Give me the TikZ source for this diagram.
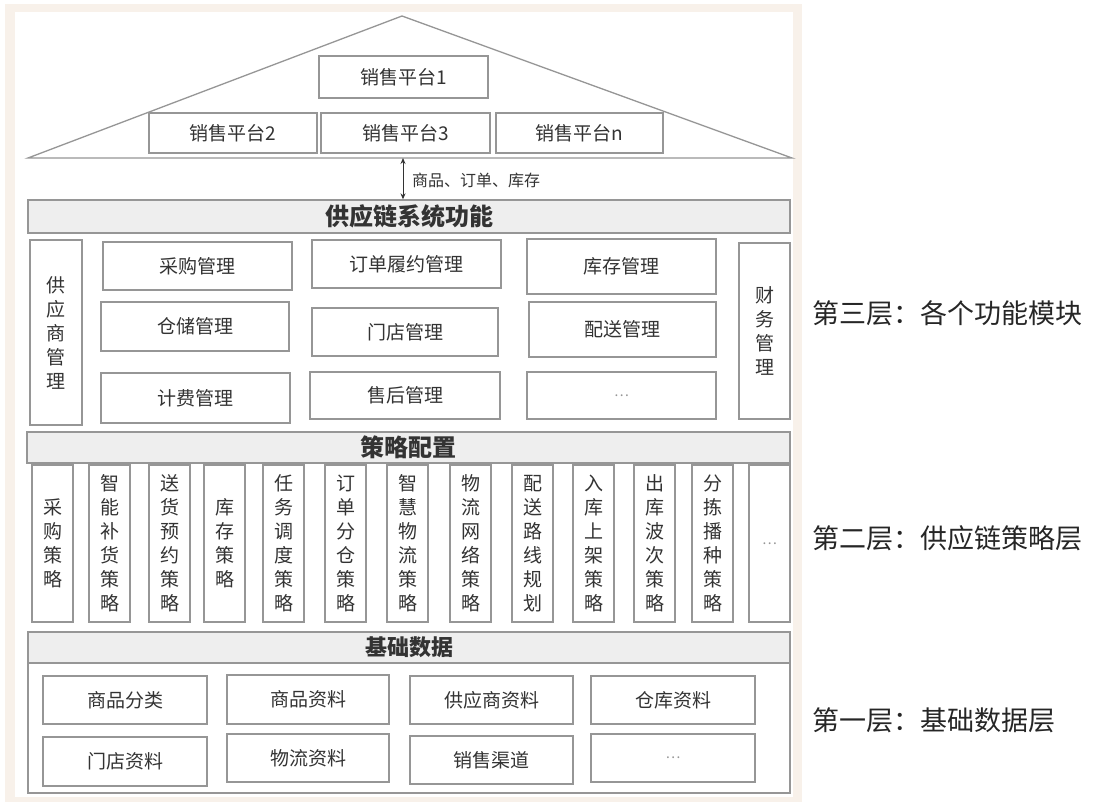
\documentclass[tikz,border=0pt]{standalone}
\usepackage{fontspec}
\setmainfont{Noto Sans CJK SC}
\usepackage{xcolor}
\usepackage{tikz}
\usetikzlibrary{arrows.meta, positioning}

\definecolor{framebeige}{RGB}{248,241,234}
\definecolor{linegray}{RGB}{150,150,150}
\definecolor{barfill}{RGB}{238,238,238}
\definecolor{txtgray}{RGB}{51,51,51}

\begin{document}
\begin{tikzpicture}[x=1pt, y=-1pt,
  box/.style={draw=linegray, line width=1.3pt, text=txtgray, inner sep=0pt,
              font=\fontsize{19}{23}\selectfont},
  bar/.style={box, fill=barfill, font=\fontsize{24}{28}\selectfont\bfseries},
  vbox/.style={box, align=center, font=\fontsize{19}{24}\selectfont},
  dots/.style={box, text=linegray, font=\fontsize{14}{16}\selectfont},
  layer/.style={anchor=west, inner sep=0pt, text=black!85,
                font=\fontsize{27}{32}\selectfont},
  arr/.style={<->, >={Stealth[length=6pt, width=5pt]}, line width=1pt, draw=txtgray}
]
  \useasboundingbox (0,0) rectangle (1104,802);

  % Frame
  \fill[framebeige] (5,4) rectangle (802,802);
  \fill[white] (15,12) rectangle (793,797);

  % Roof with sales platforms
  \draw[linegray, line width=1.3pt] (28,158) -- (402,16) -- (792,158) -- cycle;
  \node[box, minimum width=169, minimum height=42] (plat1) at (403.5,77) {销售平台1};
  \node[box, minimum width=168, minimum height=40] (plat2) at (233,133) {销售平台2};
  \node[box, minimum width=169, minimum height=40] (plat3) at (405.5,133) {销售平台3};
  \node[box, minimum width=167, minimum height=40] (platn) at (579.5,133) {销售平台n};

  % System functions
  \node[bar, minimum width=762, minimum height=33] (sysbar) at (409,216.5) {供应链系统功能};
  \coordinate (roofbase) at (403,158);
  \draw[arr] (roofbase) -- (roofbase |- sysbar.north);
  \node[anchor=west, inner sep=0pt, text=txtgray, font=\fontsize{16}{19}\selectfont]
    (flowlbl) at (412,180) {商品、订单、库存};

  \node[vbox, minimum width=52, minimum height=185] (supmgr) at (56,332.5) {供\\应\\商\\管\\理};
  \node[box, minimum width=189, minimum height=48] (purmgr) at (197.5,266) {采购管理};
  \node[box, minimum width=188, minimum height=49] (whmgr) at (195,326.5) {仓储管理};
  \node[box, minimum width=189, minimum height=50] (feemgr) at (195.5,398) {计费管理};
  \node[box, minimum width=189, minimum height=48] (ordmgr) at (406.5,264) {订单履约管理};
  \node[box, minimum width=186, minimum height=48] (shopmgr) at (405,332) {门店管理};
  \node[box, minimum width=190, minimum height=47] (aftmgr) at (405,395.5) {售后管理};
  \node[box, minimum width=189, minimum height=55] (stkmgr) at (621.5,266.5) {库存管理};
  \node[box, minimum width=187, minimum height=55] (delmgr) at (622.5,329.5) {配送管理};
  \node[dots, minimum width=189, minimum height=47] (moremgr) at (621.5,395.5) {…};
  \node[vbox, minimum width=51, minimum height=176] (finmgr) at (764.5,331) {财\\务\\管\\理};

  % Strategy configuration
  \node[bar, minimum width=763, minimum height=31] (stratbar) at (408.5,447.5) {策略配置};
  \foreach \cx/\txt [count=\i] in {52.5/采\\购\\策\\略, 109.5/智\\能\\补\\货\\策\\略,
      169.5/送\\货\\预\\约\\策\\略, 224.5/库\\存\\策\\略, 283.5/任\\务\\调\\度\\策\\略,
      345.5/订\\单\\分\\仓\\策\\略, 407.5/智\\慧\\物\\流\\策\\略, 470.5/物\\流\\网\\络\\策\\略,
      532.5/配\\送\\路\\线\\规\\划, 593.5/入\\库\\上\\架\\策\\略, 654.5/出\\库\\波\\次\\策\\略,
      712.5/分\\拣\\播\\种\\策\\略}
    \node[vbox, minimum width=41, minimum height=157] (strat\i) at (\cx,543.5) {\txt};
  \node[dots, minimum width=41, minimum height=157] (stratmore) at (769.5,543.5) {…};

  % Base data
  \node[box, minimum width=762, minimum height=161] (datafrm) at (409,712.5) {};
  \node[bar, minimum width=762, minimum height=31, font=\fontsize{22}{26}\selectfont\bfseries]
    (databar) at (409,647.5) {基础数据};
  \node[box, minimum width=164, minimum height=48] (goodscat) at (125,700) {商品分类};
  \node[box, minimum width=162, minimum height=49] (goodsinfo) at (308,699.5) {商品资料};
  \node[box, minimum width=163, minimum height=48] (supinfo) at (491.5,700) {供应商资料};
  \node[box, minimum width=164, minimum height=48] (whinfo) at (673,700) {仓库资料};
  \node[box, minimum width=164, minimum height=49] (shopinfo) at (125,761.5) {门店资料};
  \node[box, minimum width=162, minimum height=48] (logiinfo) at (308,758) {物流资料};
  \node[box, minimum width=163, minimum height=48] (salechan) at (491.5,760) {销售渠道};
  \node[dots, minimum width=164, minimum height=48] (moredata) at (673,758) {…};

  % Layer labels
  \node[layer] (layer3) at (812,313) {第三层：各个功能模块};
  \node[layer] (layer2) at (812,538) {第二层：供应链策略层};
  \node[layer] (layer1) at (812,720) {第一层：基础数据层};
\end{tikzpicture}
\end{document}
